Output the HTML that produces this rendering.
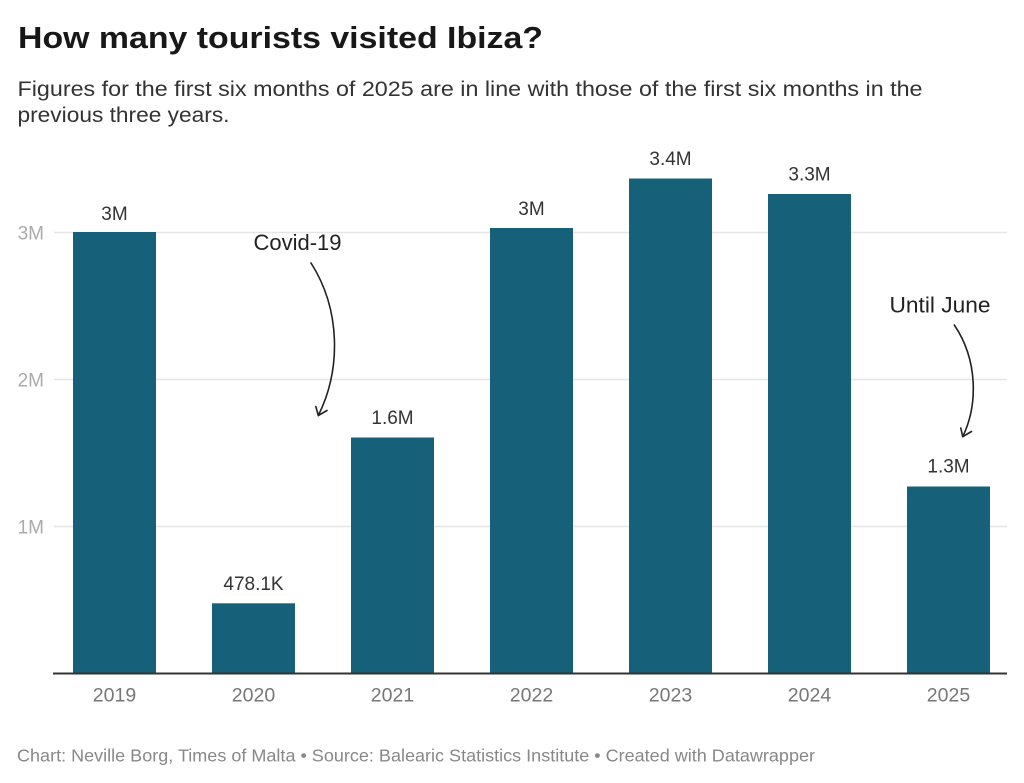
<!DOCTYPE html>
<html>
<head>
<meta charset="utf-8">
<style>
html,body{margin:0;padding:0;background:#fff;}
svg{display:block;}
text{font-family:"Liberation Sans",Arial,sans-serif;}
</style>
</head>
<body>
<svg width="1024" height="783" viewBox="0 0 1024 783" xmlns="http://www.w3.org/2000/svg">
<rect width="1024" height="783" fill="#fff"/>
<!-- Title -->
<text x="18" y="48" font-size="31" font-weight="bold" fill="#181818" textLength="525" lengthAdjust="spacingAndGlyphs">How many tourists visited Ibiza?</text>
<text x="17.5" y="96" font-size="21" fill="#333" textLength="905" lengthAdjust="spacingAndGlyphs">Figures for the first six months of 2025 are in line with those of the first six months in the</text>
<text x="17.5" y="122" font-size="21" fill="#333" textLength="212" lengthAdjust="spacingAndGlyphs">previous three years.</text>

<!-- gridlines -->
<g stroke="#e6e6e6" stroke-width="1.5">
<line x1="54" y1="232.5" x2="1007" y2="232.5"/>
<line x1="54" y1="379.5" x2="1007" y2="379.5"/>
<line x1="54" y1="526.5" x2="1007" y2="526.5"/>
</g>
<!-- y labels -->
<g font-size="19" fill="#ababab" text-anchor="end">
<text x="44" y="239.5">3M</text>
<text x="44" y="386.5">2M</text>
<text x="44" y="533.5">1M</text>
</g>

<!-- bars -->
<g fill="#17607a">
<rect x="73" y="232" width="83" height="441.5"/>
<rect x="212" y="603.3" width="83" height="70.2"/>
<rect x="351" y="437.5" width="83" height="236"/>
<rect x="490" y="228" width="83" height="445.5"/>
<rect x="629" y="178.5" width="83" height="495"/>
<rect x="768" y="194" width="83" height="479.5"/>
<rect x="907" y="486.5" width="83" height="187"/>
</g>
<!-- baseline -->
<line x1="53" y1="673.5" x2="1007" y2="673.5" stroke="#333" stroke-width="2"/>

<!-- value labels -->
<g font-size="19" fill="#333" text-anchor="middle">
<text x="114.5" y="220">3M</text>
<text x="253.5" y="590">478.1K</text>
<text x="392.5" y="424">1.6M</text>
<text x="531.5" y="215">3M</text>
<text x="670.5" y="165">3.4M</text>
<text x="809.5" y="180.5">3.3M</text>
<text x="948.5" y="472.5">1.3M</text>
</g>

<!-- year labels -->
<g font-size="19.5" fill="#777" text-anchor="middle">
<text x="114.5" y="701.5">2019</text>
<text x="253.5" y="701.5">2020</text>
<text x="392.5" y="701.5">2021</text>
<text x="531.5" y="701.5">2022</text>
<text x="670.5" y="701.5">2023</text>
<text x="809.5" y="701.5">2024</text>
<text x="948.5" y="701.5">2025</text>
</g>

<!-- annotations -->
<text x="253.5" y="250" font-size="22" fill="#222" textLength="88" lengthAdjust="spacingAndGlyphs">Covid-19</text>
<text x="889.5" y="312.3" font-size="22" fill="#222" textLength="101" lengthAdjust="spacingAndGlyphs">Until June</text>
<g fill="none" stroke="#222" stroke-width="1.6" stroke-linecap="round" stroke-linejoin="round">
<path d="M311,263 C341,310 341,370 318.3,415.5"/>
<path d="M315.8,406.5 L318.3,415.5 L327,410.5"/>
<path d="M954.3,325 C978,360 978,405 962.7,436.7"/>
<path d="M960.8,428 L962.7,436.7 L971.5,431.5"/>
</g>

<!-- footer -->
<text x="17" y="761.5" font-size="17.5" fill="#888" textLength="798" lengthAdjust="spacingAndGlyphs">Chart: Neville Borg, Times of Malta • Source: Balearic Statistics Institute • Created with Datawrapper</text>
</svg>
</body>
</html>
